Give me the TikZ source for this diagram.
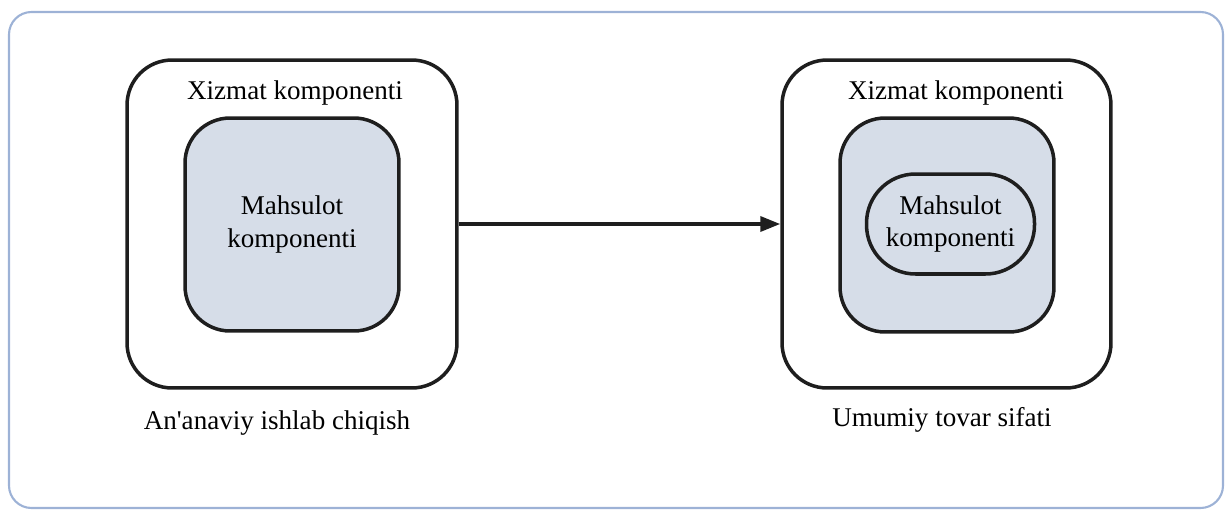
\documentclass[tikz,border=0pt]{standalone}
\usepackage{fontspec}
\setmainfont{Liberation Serif}
\usetikzlibrary{arrows.meta}
\usetikzlibrary{positioning}
\definecolor{framecol}{HTML}{9DB2D6}
\definecolor{corecol}{HTML}{D6DDE8}
\definecolor{linecol}{HTML}{1E1E1E}

\begin{document}
\begin{tikzpicture}[x=0.02cm,y=-0.02cm]
\tikzset{layer/.style={draw=linecol,line width=2pt,rounded corners=0.9cm,inner sep=0pt,align=center,font=\fontsize{15.4}{18.4}\selectfont},
caption/.style={inner sep=0pt,font=\fontsize{15.4}{18.4}\selectfont}}
\useasboundingbox (0,0) rectangle (1227,511);
\draw[draw=framecol,line width=1.2pt,rounded corners=0.45cm] (9,12) rectangle (1223,508);
% traditional product
\node[layer,minimum width=6.6cm,minimum height=6.56cm](trad) at (292,224){};
\node[layer,fill=corecol,minimum width=4.28cm,minimum height=4.26cm](tradcore) at (292,224.5){Mahsulot\\komponenti};
\node[caption](tradlbl) at (295,93){Xizmat komponenti};
\node[caption](tradname) at (277,423){An\textquotesingle anaviy ishlab chiqish};
% total product quality
\node[layer,minimum width=6.58cm,minimum height=6.56cm](total) at (946.5,224){};
\node[layer,fill=corecol,minimum width=4.28cm,minimum height=4.28cm](totalcore) at (947,225){};
\node[layer,minimum width=3.36cm,minimum height=2cm,rounded corners=0.98cm,xshift=2pt](totalprod) at (947,224){Mahsulot\\komponenti};
\node[caption](totallbl) at (956,93){Xizmat komponenti};
\node[caption](totalname) at (942,420){Umumiy tovar sifati};
\draw[draw=linecol,line width=2pt,-{Triangle[length=0.4cm,width=0.3cm]}](trad) -- (total);
\end{tikzpicture}
\end{document}
